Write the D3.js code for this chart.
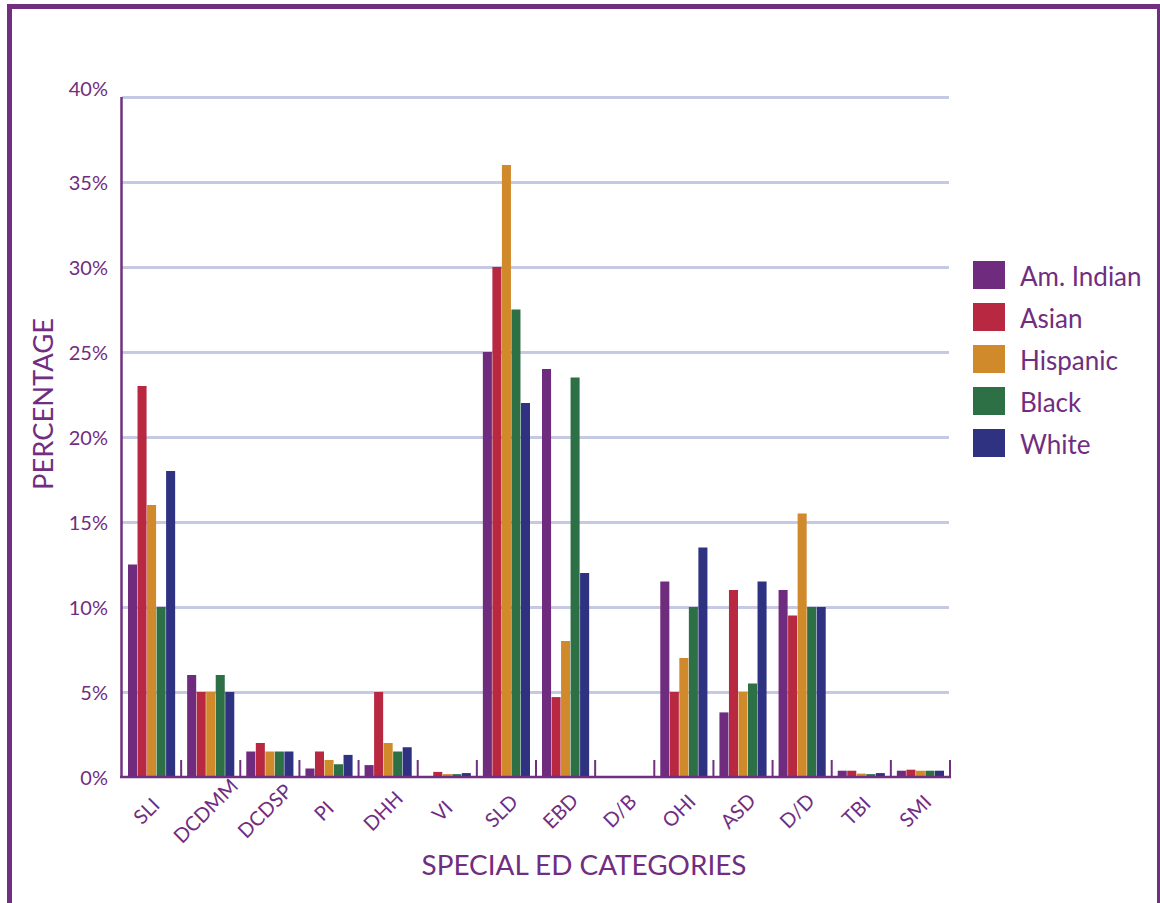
<!DOCTYPE html>
<html>
<head>
<meta charset="utf-8">
<script src="https://cdn.jsdelivr.net/npm/d3@7"></script>
<style>
  html, body { margin: 0; padding: 0; background: #fff; }
  svg { display: block; font-family: Lato, "Open Sans", sans-serif; }
</style>
</head>
<body>
<svg id="chart" width="1160" height="903"></svg>
<script>
const categories = ["SLI","DCDMM","DCDSP","PI","DHH","VI","SLD","EBD","D/B","OHI","ASD","D/D","TBI","SMI"];
const seriesNames = ["Am. Indian","Asian","Hispanic","Black","White"];
const seriesColors = ["#6f2c7e","#b82941","#d08a2c","#2e7046","#2f3280"];
const amIndian = [12.5, 6, 1.5, 0.5, 0.7, 0, 25, 24, 0, 11.5, 3.8, 11, 0.37, 0.37];
const asian    = [23, 5, 2, 1.5, 5, 0.3, 30, 4.7, 0, 5, 11, 9.5, 0.37, 0.43];
const hispanic = [16, 5, 1.5, 1, 2, 0.17, 36, 8, 0, 7, 5, 15.5, 0.2, 0.37];
const black    = [10, 6, 1.5, 0.75, 1.5, 0.17, 27.5, 23.5, 0, 10, 5.5, 10, 0.17, 0.37];
const white    = [18, 5, 1.5, 1.3, 1.75, 0.23, 22, 12, 0, 13.5, 11.5, 10, 0.23, 0.37];
const yTicks = [0, 5, 10, 15, 20, 25, 30, 35, 40];
const yTickLabels = ["0%","5%","10%","15%","20%","25%","30%","35%","40%"];
const xTitle = "SPECIAL ED CATEGORIES";
const yTitle = "PERCENTAGE";

const seriesValues = [amIndian, asian, hispanic, black, white];
const textColor = "#712d80";
const axisColor = "#70307f";
const gridColor = "#c6c9e4";

const svg = d3.select("#chart");

// frame
svg.append("rect")
  .attr("x", 9.5).attr("y", 6.5).attr("width", 1150).attr("height", 1000)
  .attr("fill", "none").attr("stroke", axisColor).attr("stroke-width", 5);

const plotL = 122, plotR = 950, plotT = 97, plotB = 777;

const x = d3.scaleBand().domain(categories).range([plotL, plotR]).padding(0);
const bw = x.bandwidth();
const x1 = d3.scaleBand().domain(seriesNames).range([6, bw - 6]).paddingInner(0.05);
const y = d3.scaleLinear().domain([0, 40]).range([plotB, plotT]);
const color = d3.scaleOrdinal().domain(seriesNames).range(seriesColors);

// gridlines
const grid = svg.append("g").attr("transform", `translate(${plotL},0)`)
  .call(d3.axisRight(y).tickValues(yTicks.filter(d => d > 0)).tickSize(plotR - plotL - 1).tickFormat(""));
grid.select(".domain").remove();
grid.selectAll(".tick line").attr("stroke", gridColor).attr("stroke-width", 3);

// y tick labels
const yAxis = svg.append("g").attr("transform", `translate(${plotL},0)`)
  .call(d3.axisLeft(y).tickValues(yTicks).tickSize(0).tickPadding(14)
    .tickFormat((d, i) => yTickLabels[i]));
yAxis.select(".domain").remove();
yAxis.selectAll(".tick text")
  .attr("fill", textColor).attr("font-size", 20).attr("font-family", "Lato, sans-serif")
  .attr("dy", d => d === 40 ? "-0.1em" : "0.35em");

// bars
const rows = categories.map((c, ci) => ({ cat: c, vals: seriesNames.map((s, si) => ({ s, v: seriesValues[si][ci] })) }));
const groups = svg.append("g").selectAll("g").data(rows).join("g")
  .attr("transform", d => `translate(${x(d.cat)},0)`);
groups.selectAll("rect").data(d => d.vals).join("rect")
  .attr("x", d => x1(d.s))
  .attr("width", x1.bandwidth())
  .attr("y", d => y(d.v))
  .attr("height", d => y(0) - y(d.v))
  .attr("fill", d => color(d.s));

// y axis line
svg.append("line").attr("x1", plotL - 0.5).attr("x2", plotL - 0.5).attr("y1", plotT).attr("y2", plotB + 1)
  .attr("stroke", axisColor).attr("stroke-width", 2.5);

// x axis line
svg.append("line").attr("x1", plotL - 2).attr("x2", plotR + 1).attr("y1", plotB).attr("y2", plotB)
  .attr("stroke", axisColor).attr("stroke-width", 2.5);

// category boundary ticks
const bounds = categories.map(c => x(c)).concat([plotR]).slice(1);
svg.append("g").selectAll("line").data(bounds).join("line")
  .attr("x1", d => d).attr("x2", d => d).attr("y1", plotB - 17).attr("y2", plotB)
  .attr("stroke", axisColor).attr("stroke-width", 2);

// x labels
const xAxis = svg.append("g").attr("transform", `translate(0,${plotB})`)
  .call(d3.axisBottom(x).tickSize(0).tickPadding(0));
xAxis.select(".domain").remove();
xAxis.selectAll(".tick text")
  .attr("fill", textColor).attr("font-size", 20).attr("font-family", "Lato, sans-serif")
  .attr("text-anchor", "middle")
  .attr("dy", 0)
  .attr("transform", "translate(0,39) rotate(-45)");

// axis titles
svg.append("text")
  .attr("x", 584).attr("y", 875)
  .attr("text-anchor", "middle")
  .attr("fill", textColor).attr("font-size", 26)
  .attr("textLength", 325).attr("lengthAdjust", "spacingAndGlyphs")
  .text(xTitle);

svg.append("text")
  .attr("transform", "translate(53,404) rotate(-90)")
  .attr("text-anchor", "middle")
  .attr("fill", textColor).attr("font-size", 26)
  .attr("textLength", 172).attr("lengthAdjust", "spacingAndGlyphs")
  .text(yTitle);

// legend
const legend = svg.append("g").attr("transform", "translate(973,261)");
const li = legend.selectAll("g").data(seriesNames).join("g")
  .attr("transform", (d, i) => `translate(0,${i * 42})`);
li.append("rect").attr("width", 32).attr("height", 28).attr("fill", d => color(d));
li.append("text").attr("x", 47).attr("y", 25)
  .attr("fill", textColor).attr("font-size", 26)
  .text(d => d);
</script>
</body>
</html>
